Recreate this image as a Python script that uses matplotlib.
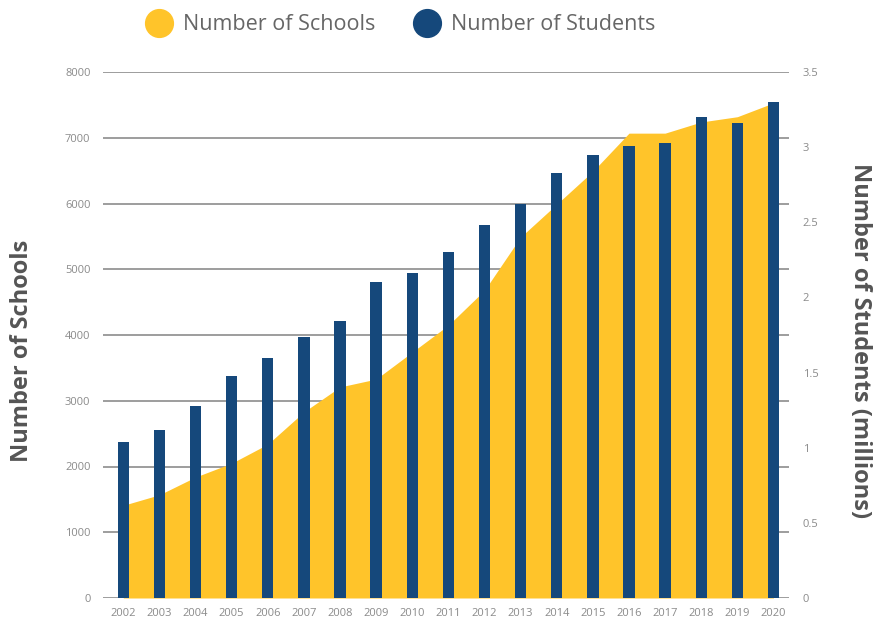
import numpy as np
import matplotlib
matplotlib.use("Agg")
import matplotlib.pyplot as plt
from matplotlib.lines import Line2D

plt.rcParams['font.family'] = ['Open Sans', 'DejaVu Sans']

years = [str(y) for y in range(2002, 2021)]
schools = [1410, 1570, 1840, 2050, 2340, 2830, 3210, 3330, 3740, 4150,
           4680, 5490, 5990, 6490, 7070, 7070, 7240, 7320, 7530]
students = [1.04, 1.12, 1.28, 1.48, 1.60, 1.74, 1.84, 2.10, 2.16, 2.30,
            2.48, 2.62, 2.83, 2.95, 3.01, 3.03, 3.20, 3.16, 3.30]
school_ticks = [0, 1000, 2000, 3000, 4000, 5000, 6000, 7000, 8000]
student_ticks = [0, 0.5, 1, 1.5, 2, 2.5, 3, 3.5]

yellow = "#FFC42A"
blue = "#15487B"
tick_col = "#8a8a8a"
title_col = "#555555"

fig = plt.figure(figsize=(8.75, 6.21), dpi=100)
ax = fig.add_axes([103/875, 23/621, 686/875, 526/621])
x = np.arange(len(years))

ax.fill_between(x, 0, schools, color=yellow, linewidth=0, zorder=2)
ax.set_ylim(0, 8000)
ax.set_xlim(-0.562, 18.43)
ax.set_yticks(school_ticks)
ax.set_yticklabels([str(t) for t in school_ticks])
ax.grid(axis="y", color="#8c8c8c", linewidth=1.2, zorder=0)
ax.set_axisbelow(True)
ax.set_xticks(x)
ax.set_xticklabels(years)
ax.tick_params(axis="both", length=0, labelsize=8, colors=tick_col)
ax.tick_params(axis="y", pad=9)
ax.tick_params(axis="x", pad=7)
for s in ax.spines.values():
    s.set_visible(False)
ax.set_ylabel("Number of Schools", fontsize=17, fontweight="bold", color=title_col,
              va="center")
ax.yaxis.set_label_coords(-0.118, 0.47)

ax2 = ax.twinx()
ax2.bar(x, students, width=0.313, color=blue, zorder=3)
ax2.set_ylim(0, 3.5)
ax2.set_yticks(student_ticks)
ax2.set_yticklabels([("%g" % t) for t in student_ticks])
ax2.tick_params(axis="y", length=0, labelsize=8, colors=tick_col, pad=10)
for s in ax2.spines.values():
    s.set_visible(False)
ax2.set_ylabel("Number of Students (millions)", fontsize=17, fontweight="bold",
               color=title_col, rotation=270, va="center")
ax2.yaxis.set_label_coords(1.103, 0.49)

handles = [Line2D([], [], linestyle="none", marker="o", markersize=20, color=yellow),
           Line2D([], [], linestyle="none", marker="o", markersize=20, color=blue)]
fig.legend(handles, ["Number of Schools", "Number of Students"], loc="center",
           bbox_to_anchor=(0.459, 0.96), ncol=2, frameon=False, fontsize=15.5,
           labelcolor="#666666", handlelength=1.0, handletextpad=0.6, columnspacing=1.9)

fig.savefig("out.png", dpi=100)
